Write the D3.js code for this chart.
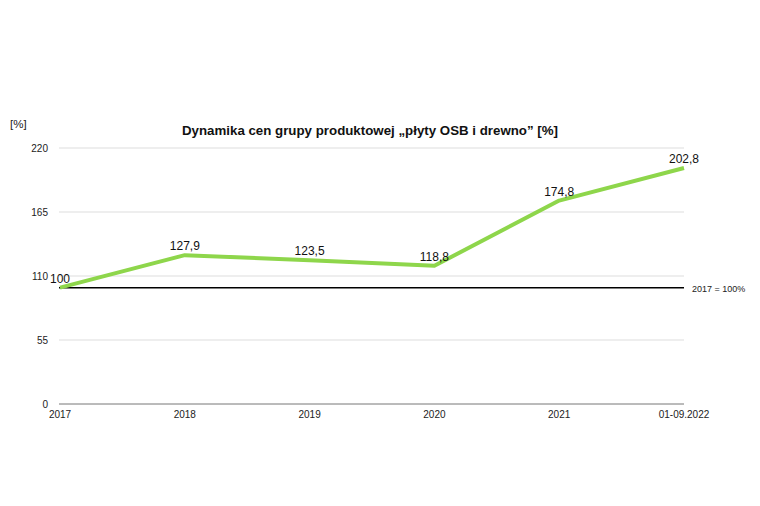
<!DOCTYPE html>
<html><head><meta charset="utf-8">
<script src="https://cdn.jsdelivr.net/npm/d3@7"></script>
<style>body{margin:0;background:#fff}svg{font-family:"Liberation Sans",Arial,sans-serif}</style>
</head><body><svg id="c" width="760" height="506"></svg>
<script>
const categories=["2017","2018","2019","2020","2021","01-09.2022"];
const values=[100,127.9,123.5,118.8,174.8,202.8];
const labels=["100","127,9","123,5","118,8","174,8","202,8"];
const yTicks=[0,55,110,165,220];
const svg=d3.select("#c");
const x=d3.scalePoint().domain(categories).range([60,684]);
const y=d3.scaleLinear().domain([0,220]).range([404,148]);
const g=svg.append("g");
yTicks.forEach(t=>{
 g.append("line").attr("x1",59).attr("x2",684).attr("y1",y(t)).attr("y2",y(t))
  .attr("stroke",t===0?"#777":"#ddd").attr("stroke-width",1);
 g.append("text").attr("x",48).attr("y",y(t)+4).attr("text-anchor","end").attr("font-size",10).attr("fill","#222").text(t);
});
categories.forEach(c=>g.append("text").attr("x",x(c)).attr("y",418).attr("text-anchor","middle").attr("font-size",10).attr("fill","#222").text(c));
g.append("line").attr("x1",59).attr("x2",684).attr("y1",y(100)).attr("y2",y(100)).attr("stroke","#000").attr("stroke-width",1.5);
g.append("text").attr("x",692).attr("y",y(100)+4).attr("font-size",9).attr("fill","#222").text("2017 = 100%");
const line=d3.line().x((d,i)=>x(categories[i])).y(d=>y(d));
g.append("path").datum(values).attr("d",line).attr("fill","none").attr("stroke","#8ed64b").attr("stroke-width",4).attr("stroke-linejoin","round");
values.forEach((v,i)=>g.append("text").attr("x",x(categories[i])).attr("y",y(v)-5)
 .attr("text-anchor","middle").attr("font-size",12).attr("fill","#111").text(labels[i]));
svg.append("text").attr("x",370).attr("y",135).attr("text-anchor","middle").attr("font-size",13.3).attr("font-weight","bold").attr("fill","#111").text("Dynamika cen grupy produktowej „płyty OSB i drewno” [%]");
svg.append("text").attr("x",10).attr("y",128).attr("font-size",11.5).attr("fill","#222").text("[%]");
</script></body></html>
